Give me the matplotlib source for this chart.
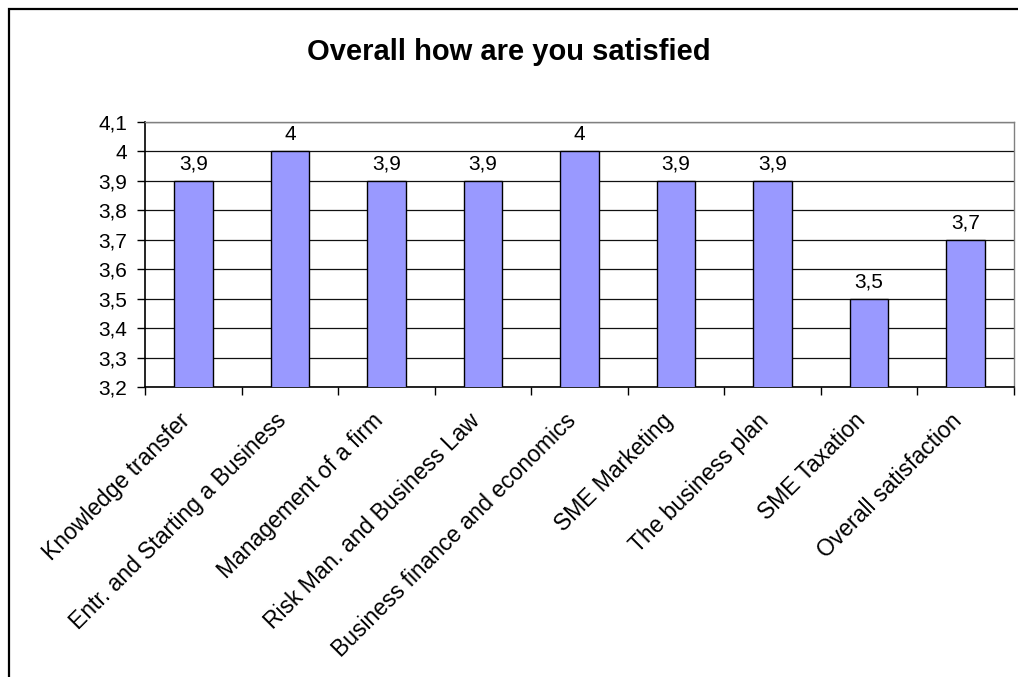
import matplotlib.pyplot as plt
from matplotlib.patches import Rectangle
from matplotlib.ticker import FixedLocator, FuncFormatter

# DATA
# ============================================================================
categories = ['Knowledge transfer', 'Entr. and Starting a Business',
              'Management of a firm', 'Risk Man. and Business Law',
              'Business finance and economics', 'SME Marketing',
              'The business plan', 'SME Taxation', 'Overall satisfaction']
scores = [3.9, 4.0, 3.9, 3.9, 4.0, 3.9, 3.9, 3.5, 3.7]
y_ticks = [3.2, 3.3, 3.4, 3.5, 3.6, 3.7, 3.8, 3.9, 4.0, 4.1]
# ============================================================================

plt.rcParams['font.family'] = ['Liberation Sans', 'DejaVu Sans']

W, H = 1018, 677
fig = plt.figure(figsize=(W / 100, H / 100), dpi=100)

# outer chart frame (runs off the right and bottom of the picture)
fig.patches.append(Rectangle((8.5 / W, -0.1), 1.2, 1.1 - 8.5 / H,
                             transform=fig.transFigure, fill=False,
                             edgecolor='black', linewidth=1.6))

ax = fig.add_axes([145 / W, 1 - 387 / H, (1014 - 145) / W, (387 - 122) / H])

x = list(range(len(categories)))
ax.bar(x, scores, width=0.4, color='#9999ff', edgecolor='black',
       linewidth=1.0, zorder=3)

for xi, v in zip(x, scores):
    txt = ('%g' % v).replace('.', ',')
    ax.annotate(txt, (xi, v), xytext=(0, 5), textcoords='offset points',
                ha='center', va='bottom', fontsize=15)

ax.set_xlim(-0.5, len(categories) - 0.5)
ax.set_ylim(3.2, 4.1)
ax.yaxis.set_major_locator(FixedLocator(y_ticks))
ax.yaxis.set_major_formatter(FuncFormatter(lambda v, p: ('%g' % round(v, 1)).replace('.', ',')))
ax.grid(axis='y', color='#111111', linewidth=0.9, zorder=0)

# category boundaries carry the x ticks
ax.set_xticks([i - 0.5 for i in range(len(categories) + 1)])
ax.set_xticklabels([])
for xi, name in zip(x, categories):
    ax.annotate(name, (xi, 3.2), xytext=(-11, -16), textcoords='offset points',
                rotation=45, rotation_mode='anchor', ha='right', va='top',
                fontsize=16.5)

ax.tick_params(axis='both', direction='out', length=6, width=1, color='black',
               labelsize=15, pad=7)
for s in ['left', 'bottom']:
    ax.spines[s].set_color('black')
    ax.spines[s].set_linewidth(1.2)
for s in ['top', 'right']:
    ax.spines[s].set_color('#808080')
    ax.spines[s].set_linewidth(1.0)

fig.text(0.5, 1 - 52 / H, 'Overall how are you satisfied', ha='center',
         va='center', fontsize=21, fontweight='bold')

plt.savefig('out.png', dpi=100)
